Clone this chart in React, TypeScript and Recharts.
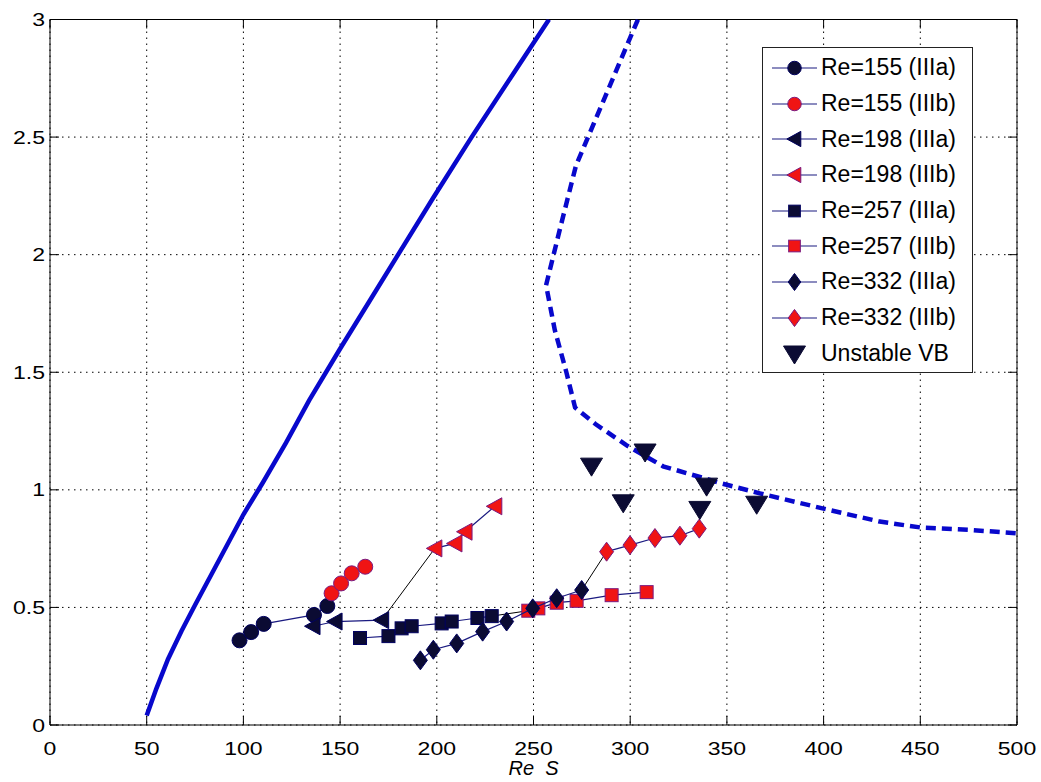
import React from "react";
import { ComposedChart, Scatter, XAxis, YAxis, CartesianGrid, Legend } from "recharts";

const xTicks = [0, 50, 100, 150, 200, 250, 300, 350, 400, 450, 500];
const yTicks = [0, 0.5, 1, 1.5, 2, 2.5, 3];

// measured series, [Re S, value]
const re155a = [[98, 0.36], [104, 0.395], [110.5, 0.43], [136.5, 0.468], [143.4, 0.506]];
const re155b = [[145.6, 0.56], [150.5, 0.602], [156, 0.645], [163, 0.673]];
const re198a = [[136, 0.42], [147.4, 0.44], [171.5, 0.446]];
const re198b = [[199, 0.751], [209.4, 0.772], [214.6, 0.822], [230, 0.93]];
const re257a = [[160.3, 0.37], [175, 0.378], [181.8, 0.411], [187, 0.42], [202.5, 0.432], [207.7, 0.44], [221, 0.455], [228.4, 0.463]];
const re257b = [[247.3, 0.486], [252.5, 0.496], [262, 0.52], [272.3, 0.528], [290.4, 0.552], [308.5, 0.565]];
const re332a = [[191.5, 0.275], [198.2, 0.32], [210.3, 0.347], [223.7, 0.397], [236.1, 0.44], [249.6, 0.496], [262, 0.539], [274.9, 0.574]];
const re332b = [[287.8, 0.737], [299.9, 0.765], [312.8, 0.795], [325.7, 0.805], [335.7, 0.835]];
const unstableVB = [[280, 1.105], [296.4, 0.949], [307.7, 1.165], [336, 0.921], [339.5, 1.02], [365.4, 0.943]];

const solidCurve = [[50, 0.04], [55, 0.155], [61, 0.28], [68, 0.4], [75, 0.51], [88, 0.71], [100, 0.895], [110, 1.03], [122, 1.2], [134, 1.38], [150, 1.6], [165, 1.8], [180, 2.0], [198, 2.24], [218, 2.5], [238, 2.75], [258, 3.0]];
const dashedCurve = [[304, 3.0], [288, 2.69], [272, 2.38], [264, 2.12], [256.5, 1.87], [261, 1.68], [267, 1.5], [271.5, 1.35], [282, 1.28], [298, 1.19], [317, 1.1], [338, 1.05], [346, 1.03], [367, 0.985], [400, 0.92], [429, 0.865], [450, 0.84], [475, 0.83], [500, 0.815]];

const legendLabels = [
  "Re=155 (IIIa)", "Re=155 (IIIb)", "Re=198 (IIIa)", "Re=198 (IIIb)",
  "Re=257 (IIIa)", "Re=257 (IIIb)", "Re=332 (IIIa)", "Re=332 (IIIb)", "Unstable VB",
];

const FONT = "'Liberation Sans', Arial, sans-serif";
const DARK_FILL = "#0b0b33";
const DARK_EDGE = "#000060";
const RED_FILL = "#f01414";
const RED_EDGE = "#7a1a80";
const SERIES_LINE = "#1a1a80";
const BLUE = "#0808cc";

const toPoints = (pairs: number[][]) => pairs.map(([x, y]) => ({ x, y }));

function marker(kind: string, cx: number, cy: number, fill: string, stroke: string, s = 1) {
  if (kind === "circle") {
    return <circle cx={cx} cy={cy} r={7.5 * s} fill={fill} stroke={stroke} strokeWidth={1} />;
  }
  if (kind === "left") {
    const p = `${cx - 8.5 * s},${cy} ${cx + 7 * s},${cy - 8.5 * s} ${cx + 7 * s},${cy + 8.5 * s}`;
    return <polygon points={p} fill={fill} stroke={stroke} strokeWidth={1} />;
  }
  if (kind === "square") {
    return <rect x={cx - 6.5 * s} y={cy - 6.5 * s} width={13 * s} height={13 * s} fill={fill} stroke={stroke} strokeWidth={1} />;
  }
  if (kind === "diamond") {
    const p = `${cx},${cy - 9.5 * s} ${cx + 7 * s},${cy} ${cx},${cy + 9.5 * s} ${cx - 7 * s},${cy}`;
    return <polygon points={p} fill={fill} stroke={stroke} strokeWidth={1} />;
  }
  if (kind === "down") {
    const p = `${cx - 11 * s},${cy - 7 * s} ${cx + 11 * s},${cy - 7 * s} ${cx},${cy + 11 * s}`;
    return <polygon points={p} fill={fill} stroke={stroke} strokeWidth={1} />;
  }
  return <g />;
}

const series = [
  { data: re155a, kind: "circle", fill: DARK_FILL, stroke: DARK_EDGE, line: true },
  { data: re155b, kind: "circle", fill: RED_FILL, stroke: RED_EDGE, line: true },
  { data: re198a, kind: "left", fill: DARK_FILL, stroke: DARK_EDGE, line: true },
  { data: re198b, kind: "left", fill: RED_FILL, stroke: RED_EDGE, line: true },
  { data: re257a, kind: "square", fill: DARK_FILL, stroke: DARK_EDGE, line: true },
  { data: re257b, kind: "square", fill: RED_FILL, stroke: RED_EDGE, line: true },
  { data: re332a, kind: "diamond", fill: DARK_FILL, stroke: DARK_EDGE, line: true },
  { data: re332b, kind: "diamond", fill: RED_FILL, stroke: RED_EDGE, line: true },
  { data: unstableVB, kind: "down", fill: DARK_FILL, stroke: DARK_FILL, line: false },
];

// thin black links from the last IIIa point to the first IIIb point
const links = [
  [re155a, re155b], [re198a, re198b], [re257a, re257b], [re332a, re332b],
].map(([a, b]) => [a[a.length - 1], b[0]]);

const noShape = () => <g />;

const BottomTick = ({ x, y, payload }: any) => (
  <g transform={`translate(${x},${y})`}>
    <line x1={0} y1={0} x2={0} y2={-9} stroke="#000" />
    <text x={0} y={23} textAnchor="middle" dominantBaseline="central" fontSize={18} fontFamily={FONT} fill="#000" transform="scale(1.28,1)">
      {payload.value}
    </text>
  </g>
);

const TopTick = ({ x, y }: any) => (
  <line x1={x} y1={y} x2={x} y2={y + 9} stroke="#000" />
);

const LeftTick = ({ x, y, payload }: any) => (
  <g>
    <line x1={x} y1={y} x2={x + 9} y2={y} stroke="#000" />
    <g transform={`translate(${x - 5},${y})`}>
      <text x={0} y={0} textAnchor="end" dominantBaseline="central" fontSize={18} fontFamily={FONT} fill="#000" transform="scale(1.28,1)">
        {payload.value}
      </text>
    </g>
  </g>
);

const RightTick = ({ x, y }: any) => (
  <line x1={x} y1={y} x2={x - 9} y2={y} stroke="#000" />
);

const LegendBox = () => (
  <div
    style={{
      width: 211,
      height: 326,
      boxSizing: "border-box",
      border: "1.5px solid #222",
      background: "#fff",
      paddingTop: 2,
      fontFamily: FONT,
      fontSize: 23,
      color: "#000",
    }}
  >
    {series.map((s, i) => (
      <div key={i} style={{ display: "flex", alignItems: "center", height: 35.7 }}>
        <svg width={58} height={36} style={{ flex: "none" }}>
          {s.line && <line x1={9} x2={54} y1={18} y2={18} stroke={SERIES_LINE} strokeWidth={1.2} />}
          {marker(s.kind, 31.5, 18, s.fill, s.stroke, s.kind === "down" ? 1 : 0.9)}
        </svg>
        <span style={{ whiteSpace: "nowrap" }}>{legendLabels[i]}</span>
      </div>
    ))}
  </div>
);

export default function App() {
  return (
    <div style={{ position: "absolute", left: 0, top: 0, width: 1041, height: 782, background: "#fff" }}>
      <ComposedChart width={1041} height={782} margin={{ top: 0, right: 0, bottom: 0, left: 0 }}>
        <CartesianGrid stroke="#000" strokeDasharray="1.5 4.5" strokeWidth={1} />
        <XAxis
          type="number"
          dataKey="x"
          domain={[0, 500]}
          ticks={xTicks}
          allowDataOverflow
          height={57}
          tickSize={0}
          tickMargin={0}
          tickLine={false}
          axisLine={{ stroke: "#000" }}
          tick={<BottomTick />}
          interval={0}
          label={{ value: "Re\u00a0\u00a0S", position: "insideBottom", offset: 7, fontStyle: "italic", fontSize: 20, fontFamily: FONT, fill: "#000" }}
        />
        <XAxis
          xAxisId="top"
          orientation="top"
          type="number"
          dataKey="x"
          domain={[0, 500]}
          ticks={xTicks}
          allowDataOverflow
          height={19.5}
          tickSize={0}
          tickMargin={0}
          tickLine={false}
          axisLine={{ stroke: "#000" }}
          tick={<TopTick />}
          interval={0}
        />
        <YAxis
          type="number"
          dataKey="y"
          domain={[0, 3]}
          ticks={yTicks}
          allowDataOverflow
          width={50}
          tickSize={0}
          tickMargin={0}
          tickLine={false}
          axisLine={{ stroke: "#000" }}
          tick={<LeftTick />}
          interval={0}
        />
        <YAxis
          yAxisId="right"
          orientation="right"
          type="number"
          dataKey="y"
          domain={[0, 3]}
          ticks={yTicks}
          allowDataOverflow
          width={24}
          tickSize={0}
          tickMargin={0}
          tickLine={false}
          axisLine={{ stroke: "#000" }}
          tick={<RightTick />}
          interval={0}
        />
        <Legend
          content={<LegendBox />}
          layout="vertical"
          align="center"
          verticalAlign="middle"
          wrapperStyle={{ left: 762, top: 47, width: 211, height: 326 }}
        />
        <Scatter
          data={toPoints(solidCurve)}
          shape={noShape}
          line={{ stroke: BLUE, strokeWidth: 4.5 }}
          isAnimationActive={false}
          legendType="none"
        />
        <Scatter
          data={toPoints(dashedCurve)}
          shape={noShape}
          line={{ stroke: BLUE, strokeWidth: 4.5, strokeDasharray: "10 6" }}
          isAnimationActive={false}
          legendType="none"
        />
        {links.map((l, i) => (
          <Scatter
            key={`link${i}`}
            data={toPoints(l)}
            shape={noShape}
            line={{ stroke: "#000", strokeWidth: 1 }}
            isAnimationActive={false}
            legendType="none"
          />
        ))}
        {series.map((s, i) => (
          <Scatter
            key={legendLabels[i]}
            name={legendLabels[i]}
            data={toPoints(s.data)}
            line={s.line ? { stroke: SERIES_LINE, strokeWidth: 1.2 } : false}
            shape={(p: any) => marker(s.kind, p.cx, p.cy, s.fill, s.stroke)}
            isAnimationActive={false}
          />
        ))}
      </ComposedChart>
    </div>
  );
}
